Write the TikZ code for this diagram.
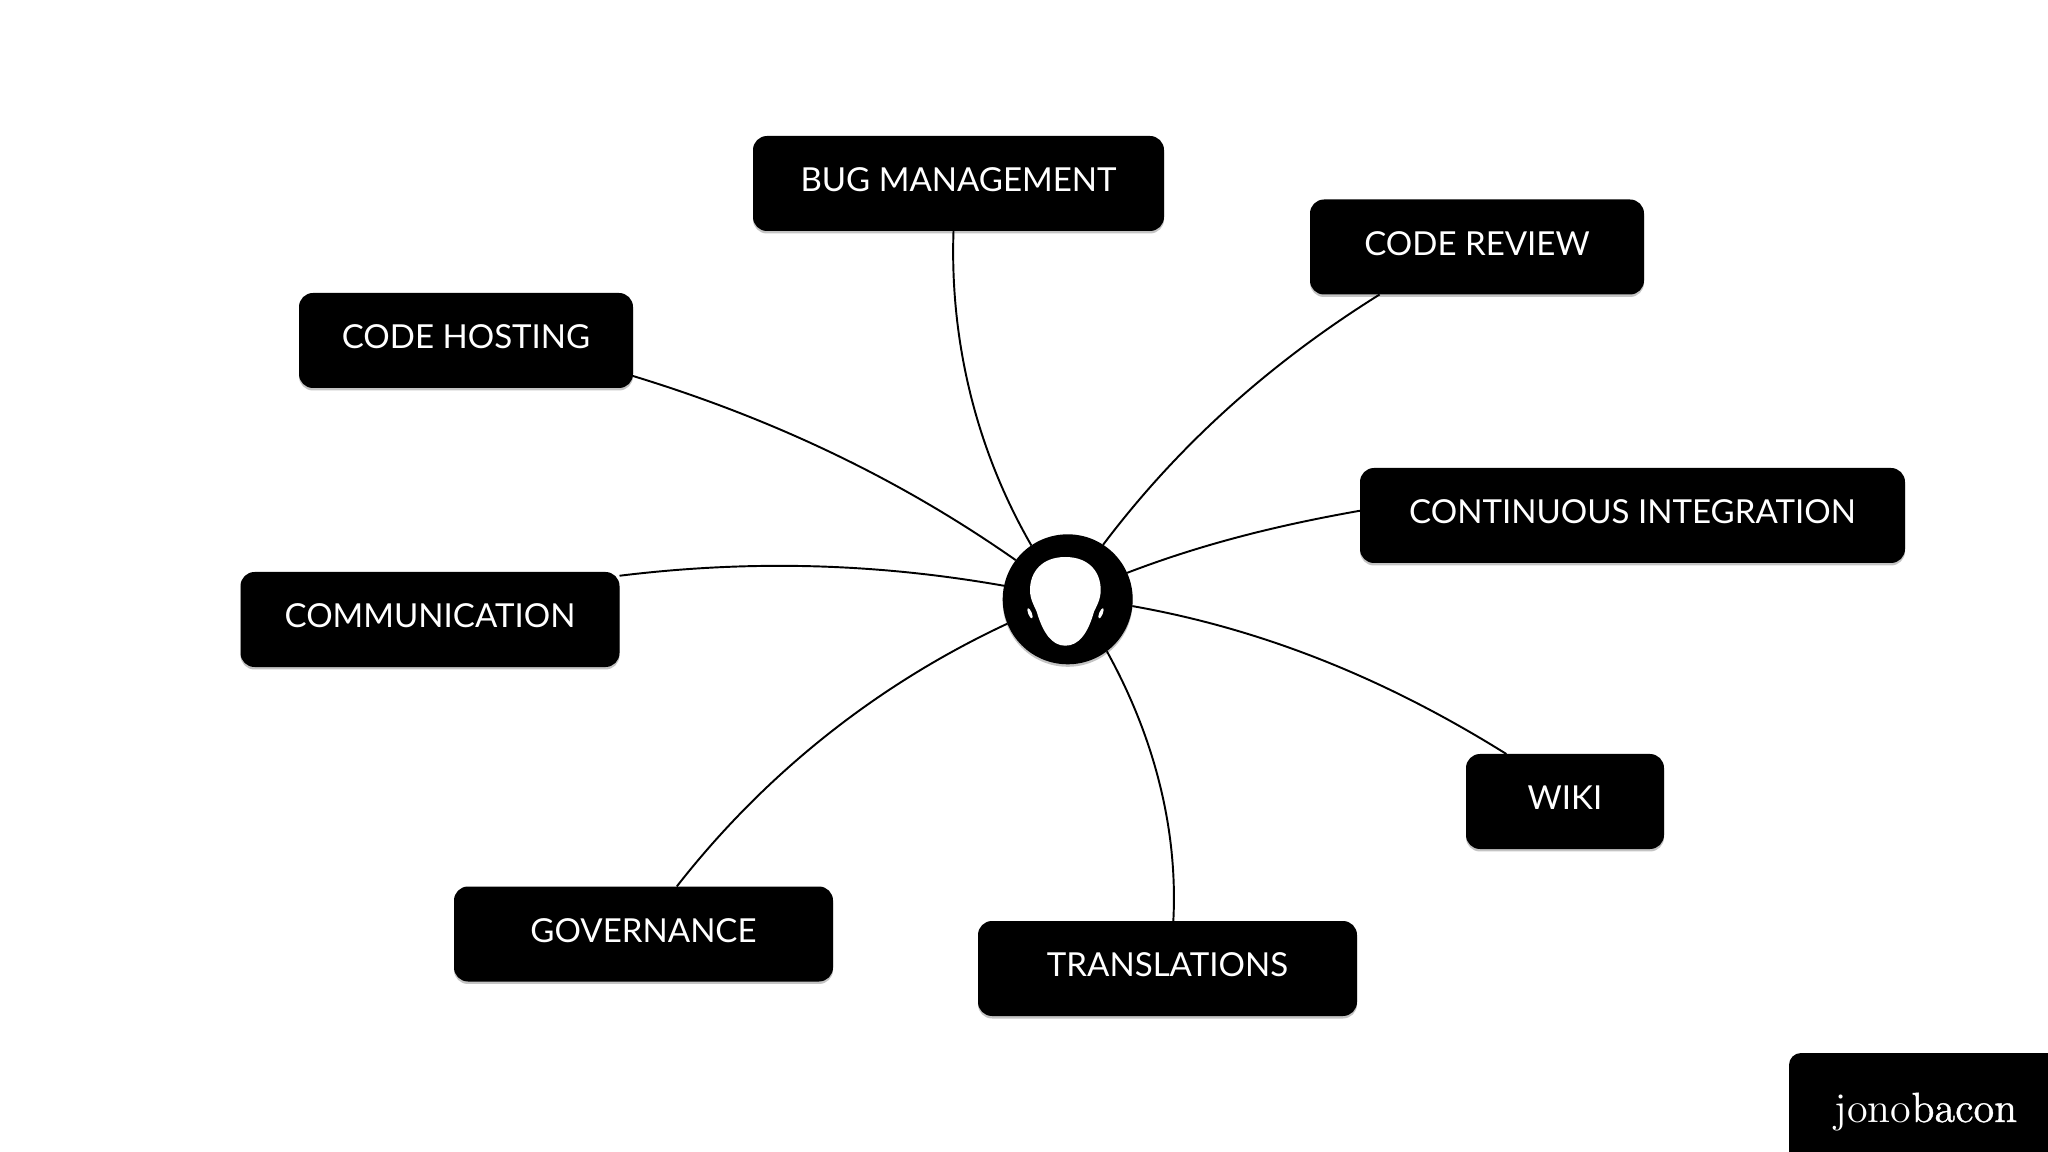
\documentclass[tikz,border=0pt]{standalone}
\usepackage{fontspec}
\setmainfont{Lato}
\newfontfamily\logothin{Latin Modern Roman}
\newfontfamily\logofat[FakeBold=1.0]{Latin Modern Roman}
\usetikzlibrary{shadows}
\definecolor{shadowgrey}{RGB}{60,60,60}
\tikzset{
    softshadow/.style={drop shadow={shadow xshift=0pt, shadow yshift=-0.025cm, opacity=0.3, fill=shadowgrey}},
    topic/.style={draw=none, fill=black, rectangle, rounded corners=0.14cm, softshadow,
        text=white, font=\fontsize{9.4}{11}\selectfont, inner sep=0pt, outer sep=0pt,
        minimum height=0.95cm, text height=0.23cm, text depth=0.06cm},
    hub/.style={draw=none, fill=black, circle, minimum size=1.3cm, inner sep=0pt, outer sep=0pt, softshadow},
    link/.style={line width=0.55pt, black, looseness=0.87},
    logobox/.style={draw=none, fill=black, rectangle, rounded corners=0.12cm, inner sep=0pt, minimum width=3cm, minimum height=1.38cm, softshadow},
}
\begin{document}
\begin{tikzpicture}
    \useasboundingbox (0,0) rectangle (20.48,-11.52);

    \node[hub] (hub) at (10.677,-5.993) {};
    \fill[white] (10.653,-5.57)
        .. controls (10.42,-5.57) and (10.30,-5.72) .. (10.30,-5.90)
        .. controls (10.30,-6.0) and (10.35,-6.07) .. (10.367,-6.117)
        .. controls (10.43,-6.33) and (10.52,-6.457) .. (10.653,-6.457)
        .. controls (10.79,-6.457) and (10.88,-6.33) .. (10.94,-6.117)
        .. controls (10.96,-6.07) and (11.007,-6.0) .. (11.007,-5.90)
        .. controls (11.007,-5.72) and (10.89,-5.57) .. (10.653,-5.57) -- cycle;
    \fill[white, rotate around={22:(10.30,-6.133)}] (10.30,-6.133) ellipse (0.018 and 0.055);
    \fill[white, rotate around={-22:(11.01,-6.133)}] (11.01,-6.133) ellipse (0.018 and 0.055);

    \node[topic, minimum width=4.11cm] (bug) at (9.585,-1.835) {BUG MANAGEMENT};
    \node[topic, minimum width=3.34cm] (review) at (14.77,-2.47) {CODE REVIEW};
    \node[topic, minimum width=3.34cm] (hosting) at (4.66,-3.405) {CODE HOSTING};
    \node[topic, minimum width=5.45cm] (ci) at (16.325,-5.155) {CONTINUOUS INTEGRATION};
    \node[topic, minimum width=3.79cm] (comms) at (4.30,-6.195) {COMMUNICATION};
    \node[topic, minimum width=1.98cm] (wiki) at (15.65,-8.015) {WIKI};
    \node[topic, minimum width=3.79cm] (gov) at (6.435,-9.34) {GOVERNANCE};
    \node[topic, minimum width=3.79cm] (trans) at (11.675,-9.685) {TRANSLATIONS};

    % spokes
    \draw[link] (bug.-96) to[out=-92, in=120] (hub.124);
    \draw[link] (review.206.2) to[out=212, in=53] (hub.57);
    \draw[link] (hosting.-12) to[out=-17, in=145] (hub.143);
    \draw[link] (ci.179) to[out=190, in=21] (hub.24);
    \draw[link] (comms.13.3) to[out=7, in=170] (hub.168);
    \draw[link] (wiki.141.6) to[out=148, in=-10] (hub.-6);
    \draw[link] (gov.55) to[out=52, in=205] (hub.202);
    \draw[link] (trans.83) to[out=87, in=-61] (hub.-53);

    \node[logobox] (logo) at (19.39,-11.22) {};
    \node[text=white, inner sep=0pt, anchor=base west, font=\fontsize{12}{13}\selectfont] (brand) at (18.34,-11.22) {{\logothin jono}{\logofat bacon}};
\end{tikzpicture}
\end{document}
